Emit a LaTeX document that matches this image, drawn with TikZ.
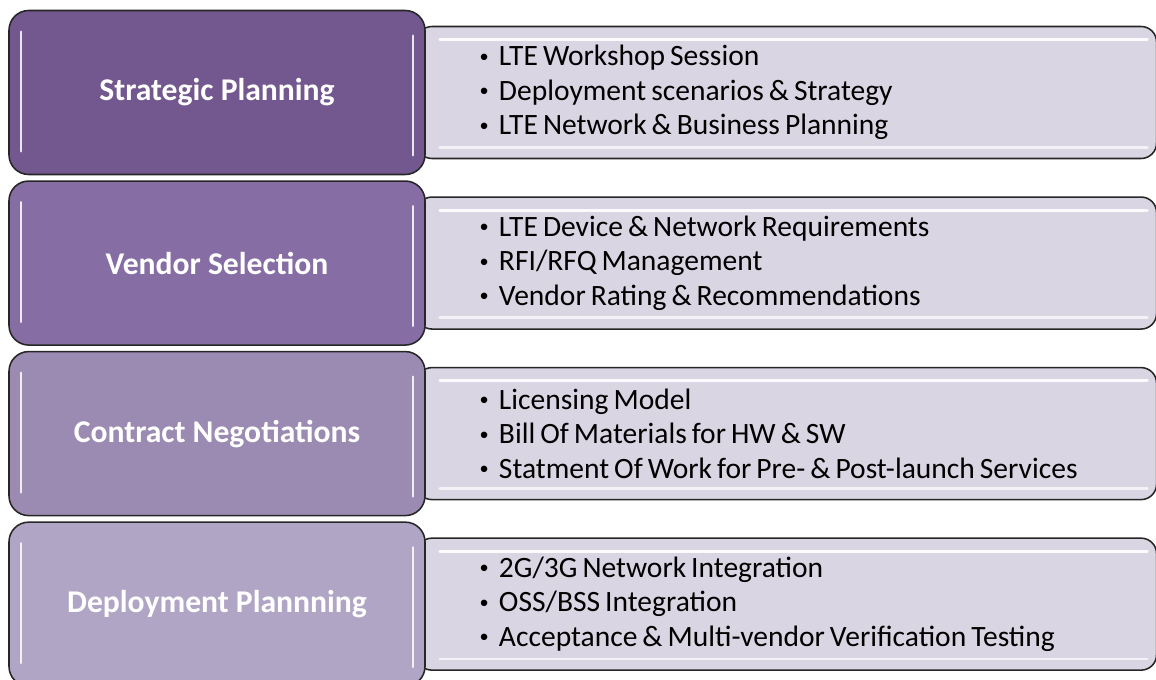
\documentclass[tikz,border=0pt]{standalone}
\usepackage{fontspec}
\setmainfont{Carlito}
\usetikzlibrary{positioning, calc, backgrounds}

\definecolor{stageA}{RGB}{114,88,143}
\definecolor{stageB}{RGB}{134,110,165}
\definecolor{stageC}{RGB}{155,139,178}
\definecolor{stageD}{RGB}{176,165,196}
\definecolor{detailfill}{RGB}{217,213,226}

% small bullet for the activity lists
\newcommand{\actbullet}{\raisebox{0.12em}{\fontsize{13}{13}\selectfont\textbullet}\hspace{0.35em}}
\newcommand{\tightwords}{\spaceskip=0.17em\relax}

\begin{document}
\begin{tikzpicture}[
        node distance=0.125cm and -0.25cm,
        stagebox/.style={rectangle, rounded corners=14pt, draw=black!85, line width=1.1pt, minimum width=10.4cm, minimum height=4.1cm, align=center, text=white, font=\fontsize{22.5}{26}\selectfont\bfseries},
        detailbox/.style={rectangle, rounded corners=11pt, draw=black!85, line width=1.1pt, fill=detailfill, minimum height=3.3cm, inner xsep=1.575cm, text width=15.35cm, align=left, font=\fontsize{21}{24.5}\selectfont, execute at begin node=\tightwords},
        gloss/.style={white, opacity=0.85, line width=2pt, line cap=round},
    ]
        \useasboundingbox (0,0) rectangle (28.9,-16.975);

        % Stages (left column)
        \node[stagebox, fill=stageA] (plan) at (5.425,-2.3125) {Strategic Planning};
        \node[stagebox, fill=stageB, below=of plan] (vendor) {Vendor Selection};
        \node[stagebox, fill=stageC, below=of vendor] (contract) {Contract Negotiations};
        \node[stagebox, fill=stageD, below=of contract] (deploy) {Deployment Plannning};

        % Activities (right column, tucked behind the stages)
        \begin{scope}[on background layer]
            \node[detailbox, right=of plan] (planitems) {%
                \actbullet LTE Workshop Session\\
                \actbullet Deployment scenarios \& Strategy\\
                \actbullet LTE Network \& Business Planning};
            \node[detailbox, right=of vendor] (vendoritems) {%
                \actbullet LTE Device \& Network Requirements\\
                \actbullet RFI/RFQ Management\\
                \actbullet Vendor Rating \& Recommendations};
            \node[detailbox, right=of contract] (contractitems) {%
                \actbullet Licensing Model\\
                \actbullet Bill Of Materials for HW \& SW\\
                \actbullet Statment Of Work for Pre- \& Post-launch Services};
            \node[detailbox, right=of deploy] (deployitems) {%
                \actbullet 2G/3G Network Integration\\
                \actbullet OSS/BSS Integration\\
                \actbullet Acceptance \& Multi-vendor Verification Testing};
        \end{scope}

        % Glossy edges
        \foreach \n in {plan, vendor, contract, deploy} {
            \draw[gloss] ($(\n.north west)+(0.32,-0.55)$) -- ($(\n.south west)+(0.32,0.6)$);
            \draw[gloss] ($(\n.north east)+(-0.32,-0.65)$) -- ($(\n.south east)+(-0.32,0.5)$);
        }
        \foreach \n in {planitems, vendoritems, contractitems, deployitems} {
            \draw[gloss, opacity=0.9] ($(\n.north west)+(0.6,-0.35)$) -- ($(\n.north east)+(-0.25,-0.35)$);
            \draw[gloss, opacity=0.7] ($(\n.south west)+(0.6,0.3)$) -- ($(\n.south east)+(-0.25,0.3)$);
        }
    \end{tikzpicture}
\end{document}
